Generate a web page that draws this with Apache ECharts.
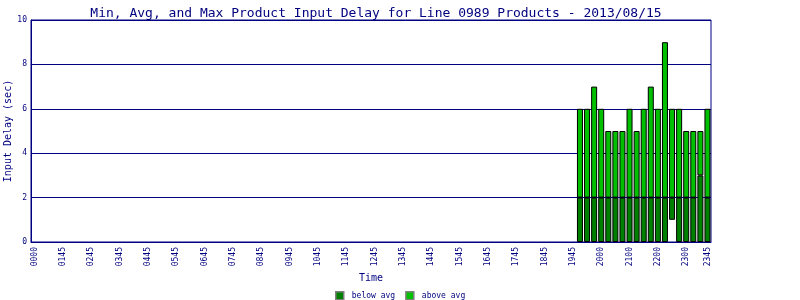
<!DOCTYPE html>
<html><head><meta charset="utf-8">
<script src="https://cdn.jsdelivr.net/npm/echarts@6/dist/echarts.min.js"></script>
<style>html,body{margin:0;padding:0;background:#fff}#c{width:800px;height:300px}</style>
</head><body><div id="c"></div>
<script>
// 15-minute time slots of the day
var timeSlots = ["0000","0015","0030","0045","0100","0115","0130","0145","0200","0215","0230","0245",
"0300","0315","0330","0345","0400","0415","0430","0445","0500","0515","0530","0545",
"0600","0615","0630","0645","0700","0715","0730","0745","0800","0815","0830","0845",
"0900","0915","0930","0945","1000","1015","1030","1045","1100","1115","1130","1145",
"1200","1215","1230","1245","1300","1315","1330","1345","1400","1415","1430","1445",
"1500","1515","1530","1545","1600","1615","1630","1645","1700","1715","1730","1745",
"1800","1815","1830","1845","1900","1915","1930","1945","2000","2015","2030","2045",
"2100","2115","2130","2145","2200","2215","2230","2245","2300","2315","2330","2345"];
// tick labels as printed on the reference axis, and the slot index each sits at
var tickLabels = ["0000","0145","0245","0345","0445","0545","0645","0745","0845","0945","1045","1145",
"1245","1345","1445","1545","1645","1745","1845","1945","2000","2100","2200","2300","2345"];
var tickSlots = [0,4,8,12,16,20,24,28,32,36,40,44,48,52,56,60,64,68,72,76,80,84,88,92,95];
// bars
var barTimes = ["1915","1930","1945","2000","2015","2030","2045","2100","2115","2130","2145","2200","2215","2230","2245","2300","2315","2330","2345"];
var minVals  = [0,0,0,0,0,0,0,0,0,0,0,0,0,1,0,0,0,0,0];
var avgVals  = [2,2,2,2,2,2,2,2,2,2,2,2,2,2,2,2,2,3,2];
var maxVals  = [6,6,7,6,5,5,5,6,5,6,7,6,9,6,6,5,5,5,6];

var N = timeSlots.length;
var base = new Array(N).fill(null), below = new Array(N).fill(null), above = new Array(N).fill(null);
barTimes.forEach(function(t,i){
  var k = timeSlots.indexOf(t);
  base[k] = minVals[i];
  below[k] = avgVals[i] - minVals[i];
  above[k] = maxVals[i] - avgVals[i];
});
var labelMap = {};
tickSlots.forEach(function(s,i){ labelMap[s] = tickLabels[i]; });

var NAVY = '#000080';
var FONT = 'DejaVu Sans Mono';
var chart = echarts.init(document.getElementById('c'), null, {renderer:'canvas'});
chart.setOption({
  animation:false,
  backgroundColor:'#fff',
  textStyle:{fontFamily:FONT},
  title:{text:'Min, Avg, and Max Product Input Delay for Line 0989 Products - 2013/08/15',
    left:371, textAlign:'center', top:2,
    textStyle:{fontFamily:FONT,fontSize:13,fontWeight:'normal',color:NAVY}},
  legend:{top:291, left:335, itemWidth:8, itemHeight:8, itemGap:10, padding:0,
    data:[
      {name:'below avg',icon:'rect',itemStyle:{color:'#008000',borderColor:'#808080',borderWidth:1.5}},
      {name:'above avg',icon:'rect',itemStyle:{color:'#00c000',borderColor:'#808080',borderWidth:1.5}}],
    textStyle:{fontFamily:FONT,fontSize:8,color:NAVY,padding:[0,0,0,3]}},
  grid:{left:31, right:89, top:20, bottom:58, show:true, borderColor:NAVY, borderWidth:1,
    containLabel:false, outerBoundsMode:'none'},
  xAxis:{type:'category', data:timeSlots, boundaryGap:true,
    name:'Time', nameLocation:'middle', nameGap:31, nameMoveOverlap:false,
    nameTextStyle:{fontFamily:FONT,fontSize:10,color:NAVY},
    axisLine:{lineStyle:{color:NAVY}}, axisTick:{show:false},
    axisLabel:{rotate:90, fontSize:8, color:NAVY, fontFamily:FONT, margin:5,
      interval:function(idx){ return labelMap.hasOwnProperty(idx); },
      formatter:function(v,idx){ return labelMap[idx] || ''; }}},
  yAxis:{type:'value', min:0, max:10, interval:2,
    name:'Input Delay (sec)', nameLocation:'middle', nameGap:18, nameRotate:90, nameMoveOverlap:false,
    nameTextStyle:{fontFamily:FONT,fontSize:10,color:NAVY},
    axisLine:{show:true,lineStyle:{color:NAVY}}, axisTick:{show:false},
    axisLabel:{fontSize:8,color:NAVY,fontFamily:FONT,margin:4},
    splitLine:{lineStyle:{color:NAVY,width:1}}},
  series:[
    {name:'base', type:'bar', stack:'s', data:base, barWidth:6, silent:true,
      itemStyle:{color:'rgba(0,0,0,0)'}},
    {name:'below avg', type:'bar', stack:'s', data:below, barWidth:6,
      itemStyle:{color:'#008000', borderColor:'#000', borderWidth:1}},
    {name:'above avg', type:'bar', stack:'s', data:above, barWidth:6,
      itemStyle:{color:'#00c000', borderColor:'#000', borderWidth:1}}
  ]
});
</script></body></html>
